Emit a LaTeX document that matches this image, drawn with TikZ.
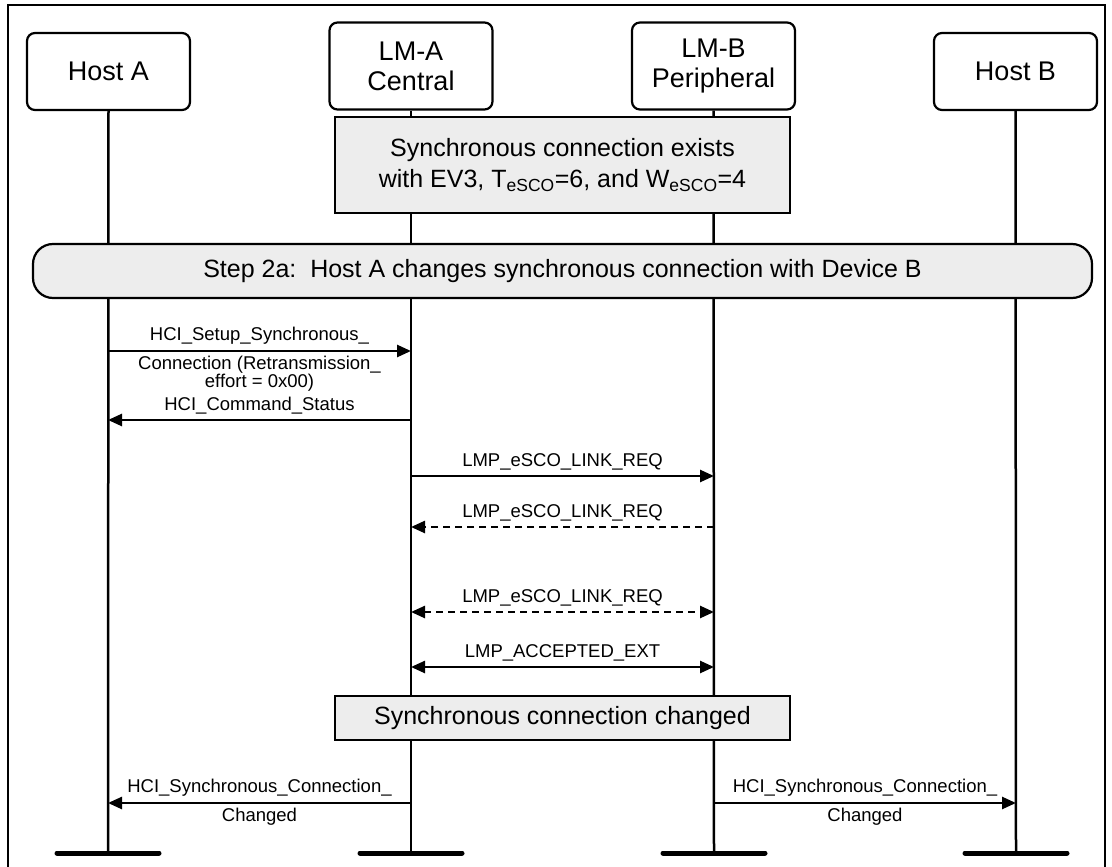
\documentclass[tikz,border=0pt]{standalone}
\usepackage{fontspec}
\setmainfont{Liberation Sans}
\usetikzlibrary{arrows.meta,calc}
\definecolor{boxgray}{HTML}{EDEDED}
\begin{document}
\begin{tikzpicture}[x=1pt,y=-1pt,
  hdr/.style={draw,line width=2.2pt,rounded corners=8pt,minimum width=163pt,inner sep=0pt,align=center,font=\fontsize{27}{30}\selectfont},
  graybox/.style={draw,line width=2.2pt,fill=boxgray,inner sep=0pt,align=center,font=\fontsize{25}{31}\selectfont},
  life/.style={line width=2.5pt},
  endbar/.style={line width=5pt,line cap=round},
  msg/.style={line width=2.5pt,-{Triangle[length=14pt,width=12pt]}},
  msgboth/.style={line width=2.5pt,{Triangle[length=14pt,width=12pt]}-{Triangle[length=14pt,width=12pt]}},
  dashedmsg/.style={dash pattern=on 7pt off 5pt},
  lbl/.style={font=\fontsize{18.5}{18}\selectfont,inner sep=0pt,align=center}
]
\useasboundingbox (0,0) rectangle (1112,867);
% frame
\draw[line width=2pt] (8,875) -- (8,5) -- (1105,5) -- (1105,875);

% headers
\node[hdr,minimum height=77pt] (hA) at (108.5,71.5) {Host A};
\node[hdr,minimum height=87pt] (lA) at (411,66) {LM-A\\Central};
\node[hdr,minimum height=87pt] (lB) at (713.5,66) {LM-B\\Peripheral};
\node[hdr,minimum height=77pt] (hB) at (1015.5,71.5) {Host B};

% lifeline ends
\coordinate (eA) at (108,853);
\coordinate (eLA) at (411,853);
\coordinate (eLB) at (714,853);
\coordinate (eB) at (1016,853);

\draw[life] (hA.south) -- (eA);
\draw[life] (lA.south) -- (eLA);
\draw[life] (lB.south) -- (eLB);
\draw[life] (hB.south) -- (eB);

\draw[endbar] ($(eA)+(-51,0)$) -- ($(eA)+(51,0)$);
\draw[endbar] ($(eLA)+(-51,0)$) -- ($(eLA)+(51,0)$);
\draw[endbar] ($(eLB)+(-51,0)$) -- ($(eLB)+(51,0)$);
\draw[endbar] ($(eB)+(-51,0)$) -- ($(eB)+(51,0)$);

% gray boxes
\node[graybox,minimum width=455pt,minimum height=96pt] (exists) at (562.5,165)
  {Synchronous connection exists\\with EV3, T\textsubscript{eSCO}=6, and W\textsubscript{eSCO}=4};
\node[graybox,rounded corners=20pt,minimum width=1059pt,minimum height=54pt] (step) at (562.5,271)
  {Step 2a:\ \ Host A changes synchronous connection with Device B};
\node[graybox,minimum width=455pt,minimum height=44pt] (changed) at (562.5,718)
  {Synchronous connection changed};

% message end points
\coordinate (m1a) at (108,351);  \coordinate (m1b) at (411,351);
\coordinate (m2a) at (108,420);  \coordinate (m2b) at (411,420);
\coordinate (m3a) at (411,476);  \coordinate (m3b) at (714,476);
\coordinate (m4a) at (411,527);  \coordinate (m4b) at (714,527);
\coordinate (m5a) at (411,612);  \coordinate (m5b) at (714,612);
\coordinate (m6a) at (411,667);  \coordinate (m6b) at (714,667);
\coordinate (m7a) at (108,803);  \coordinate (m7b) at (411,803);
\coordinate (m8a) at (714,803);  \coordinate (m8b) at (1016,803);

\draw[msg] (m1a) -- (m1b)
  node[lbl,midway,above=5pt] {HCI\_Setup\_Synchronous\_}
  node[lbl,midway,below=4pt] {Connection (Retransmission\_\\effort = 0x00)};
\draw[msg] (m2b) -- (m2a)
  node[lbl,midway,above=5pt] {HCI\_Command\_Status};
\draw[msg] (m3a) -- (m3b)
  node[lbl,midway,above=5pt] {LMP\_eSCO\_LINK\_REQ};
\draw[msg,dashedmsg] (m4b) -- (m4a)
  node[lbl,midway,above=5pt] {LMP\_eSCO\_LINK\_REQ};
\draw[msgboth,dashedmsg] (m5a) -- (m5b)
  node[lbl,midway,above=5pt] {LMP\_eSCO\_LINK\_REQ};
\draw[msgboth] (m6a) -- (m6b)
  node[lbl,midway,above=5pt] {LMP\_ACCEPTED\_EXT};
\draw[msg] (m7b) -- (m7a)
  node[lbl,midway,above=5pt] {HCI\_Synchronous\_Connection\_}
  node[lbl,midway,below=4pt] {Changed};
\draw[msg] (m8a) -- (m8b)
  node[lbl,midway,above=5pt] {HCI\_Synchronous\_Connection\_}
  node[lbl,midway,below=4pt] {Changed};
\end{tikzpicture}
\end{document}
